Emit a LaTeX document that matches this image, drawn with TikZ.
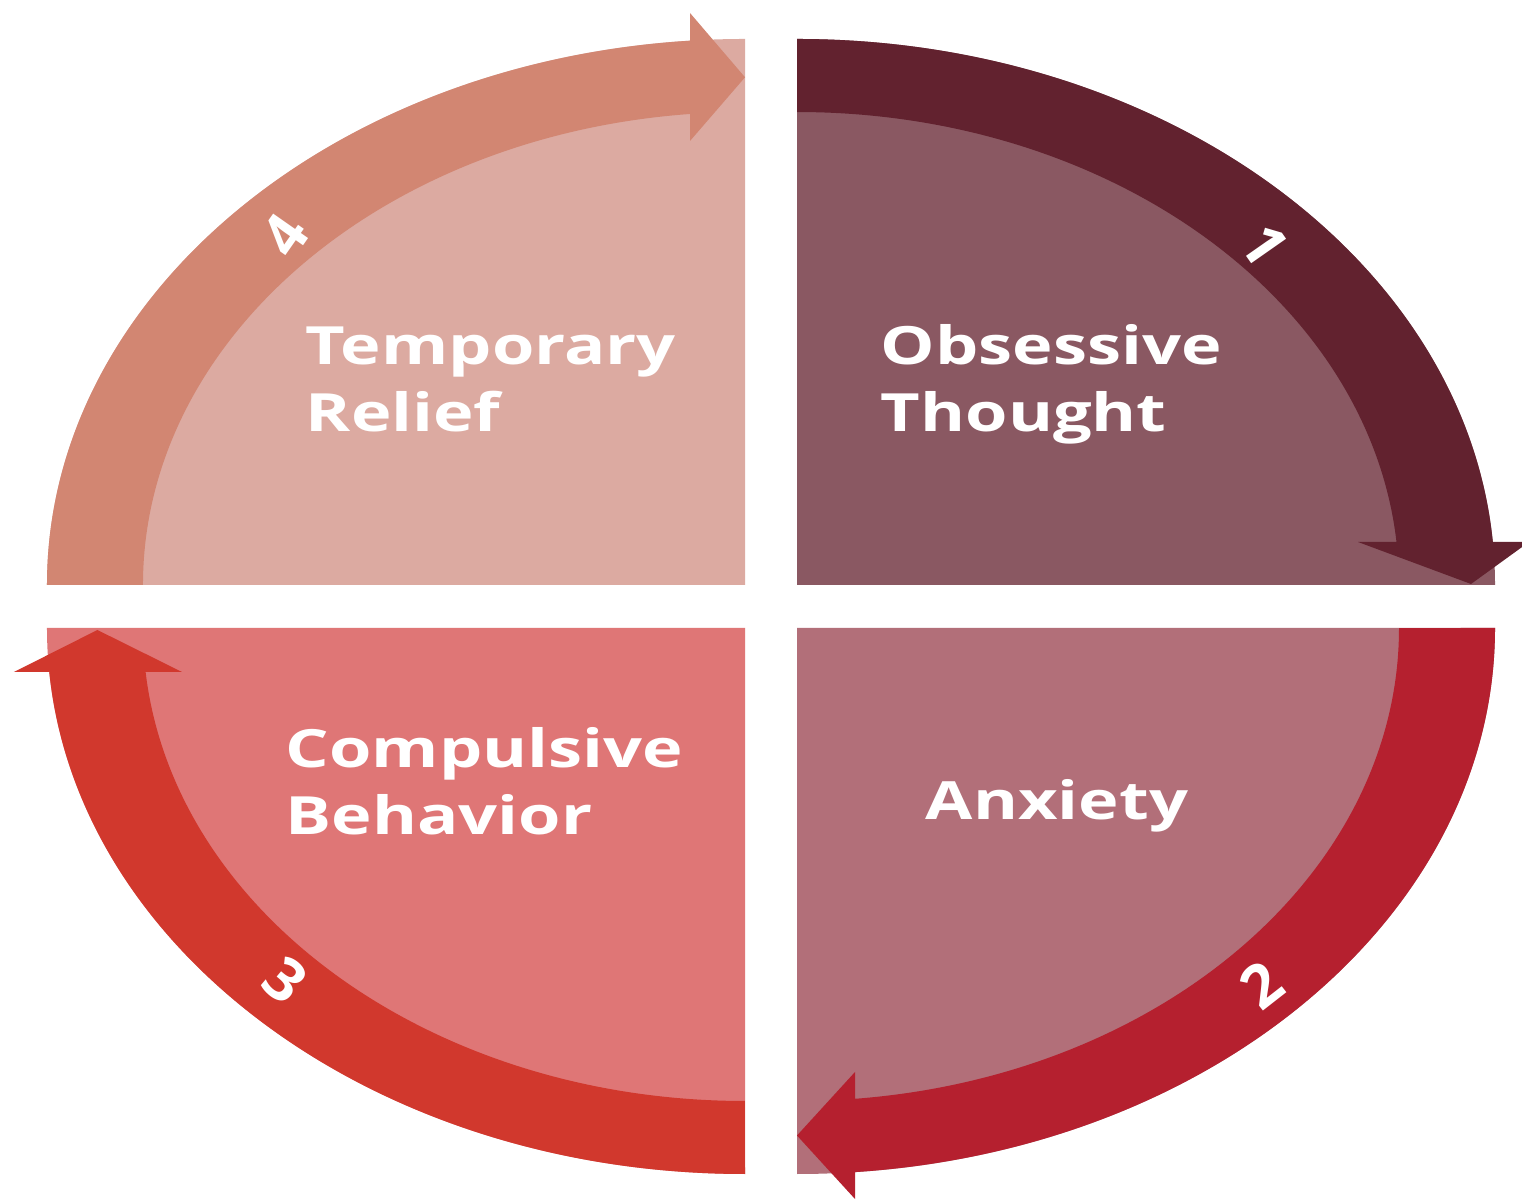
\documentclass[tikz,border=0pt]{standalone}
\usepackage{fontspec}
\setsansfont{Open Sans}
\usepackage{tikz}
\definecolor{obsfill}{HTML}{8A5862}
\definecolor{obsband}{HTML}{62222F}
\definecolor{anxfill}{HTML}{B26F79}
\definecolor{anxband}{HTML}{B5202F}
\definecolor{compfill}{HTML}{DF7676}
\definecolor{compband}{HTML}{D1382D}
\definecolor{relfill}{HTML}{DCAAA1}
\definecolor{relband}{HTML}{D28672}
% outer and inner radii of the ring
\newcommand{\outA}{6.98}
\newcommand{\outB}{5.46}
\newcommand{\inA}{6.02}
\newcommand{\inB}{4.73}

\begin{document}
\begin{tikzpicture}[
    every node/.style={text=white, inner sep=0pt},
    stagetext/.style={font=\sffamily\bfseries\fontsize{15}{19}\selectfont,
                      align=left, xscale=1.3},
    cyclenum/.style={font=\sffamily\bfseries\fontsize{17}{17}\selectfont}]
  \fill[white] (-7.71,-5.955) rectangle (7.51,6.065);
  \useasboundingbox (-7.71,-5.955) rectangle (7.51,6.065);

  % 1: obsessive thought (top right)
  \begin{scope}[shift={(0.26,0.215)}]
    \fill[obsfill] (0,0) -- (\outA,0)
      arc[start angle=0, end angle=90, x radius=\outA, y radius=\outB] -- cycle;
    \fill[obsband] (0,\outB)
      arc[start angle=90, end angle=4.52, x radius=\outA, y radius=\outB]
      -- (7.32,0.43) -- (6.74,0.01) -- (5.61,0.43) -- (5.995,0.43)
      arc[start angle=5.22, end angle=90, x radius=\inA, y radius=\inB] -- cycle;
  \end{scope}

  % 2: anxiety (bottom right)
  \begin{scope}[shift={(0.26,-0.215)}]
    \fill[anxfill] (0,0) -- (\outA,0)
      arc[start angle=0, end angle=-90, x radius=\outA, y radius=\outB] -- cycle;
    \fill[anxband] (\outA,0)
      arc[start angle=0, end angle=-85.23, x radius=\outA, y radius=\outB]
      -- (0.58,-5.71) -- (0,-5.075) -- (0.58,-4.44) -- (0.58,-4.708)
      arc[start angle=-84.47, end angle=0, x radius=\inA, y radius=\inB] -- cycle;
  \end{scope}

  % 3: compulsive behavior (bottom left)
  \begin{scope}[shift={(-0.26,-0.215)}]
    \fill[compfill] (0,0) -- (-\outA,0)
      arc[start angle=180, end angle=270, x radius=\outA, y radius=\outB] -- cycle;
    \fill[compband] (0,-\outB)
      arc[start angle=-90, end angle=-175.38, x radius=\outA, y radius=\outB]
      -- (-7.31,-0.44) -- (-6.476,-0.02) -- (-5.63,-0.44) -- (-5.994,-0.44)
      arc[start angle=-174.66, end angle=-90, x radius=\inA, y radius=\inB] -- cycle;
  \end{scope}

  % 4: temporary relief (top left)
  \begin{scope}[shift={(-0.26,0.215)}]
    \fill[relfill] (0,0) -- (-\outA,0)
      arc[start angle=180, end angle=90, x radius=\outA, y radius=\outB] -- cycle;
    \fill[relband] (-\outA,0)
      arc[start angle=180, end angle=94.52, x radius=\outA, y radius=\outB]
      -- (-0.55,5.72) -- (0,5.077) -- (-0.55,4.44) -- (-0.55,4.710)
      arc[start angle=95.24, end angle=180, x radius=\inA, y radius=\inB] -- cycle;
  \end{scope}

  % stage names
  \node[stagetext, anchor=north west] (obs) at (1.09,2.83) {Obsessive\\Thought};
  \node[stagetext, anchor=north] (anx) at (2.86,-1.72) {Anxiety};
  \node[stagetext, anchor=north west] (comp) at (-4.86,-1.20) {Compulsive\\Behavior};
  \node[stagetext, anchor=north west] (relief) at (-4.66,2.80) {Temporary\\Relief};

  % step numbers on the ring
  \node[cyclenum, rotate=-55] (n1) at (4.94,3.615) {1};
  \node[cyclenum, rotate=38] (n2) at (4.91,-3.785) {2};
  \node[cyclenum, rotate=-40] (n3) at (-4.86,-3.735) {3};
  \node[cyclenum, rotate=55] (n4) at (-4.86,3.715) {4};
\end{tikzpicture}
\end{document}
